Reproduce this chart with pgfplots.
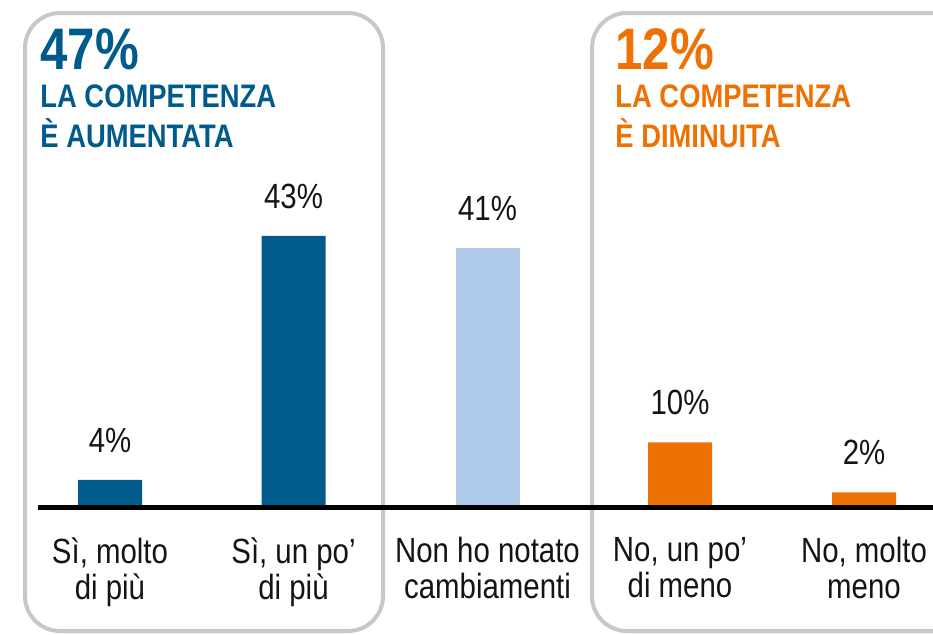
\documentclass[border=0pt]{standalone}
\usepackage{fontspec}
\setmainfont{Liberation Sans}[FakeStretch=0.84]
\usepackage{pgfplots}
\pgfplotsset{compat=1.18}
\definecolor{dblue}{HTML}{005A8C}
\definecolor{lblue}{HTML}{AEC9EA}
\definecolor{orng}{HTML}{EE7203}
\definecolor{boxgray}{HTML}{C8C8C8}
\definecolor{txt}{HTML}{141414}
\begin{document}
\begin{tikzpicture}
\begin{axis}[
 scale only axis, width=466.5pt, height=252.5pt,
 xmin=0, xmax=933, ymin=0, ymax=80.72,
 clip=false, axis line style={draw=none}, ytick=\empty,
 xtick={110,293.5,487.5,680,864},
 xticklabels={{Sì, molto\\di più},{Sì, un po’\\di più},{Non ho notato\\cambiamenti},{No, un po’\\di meno},{No, molto\\meno}},
 xticklabel style={align=center, anchor=north, inner sep=0pt, yshift=-16pt, font=\fontsize{17.5}{18}\selectfont, text=txt},
 major tick length=0pt,
 ybar, bar width=32pt, bar shift=0pt,
 nodes near coords={\pgfmathprintnumber{\pgfplotspointmeta}\%},
 nodes near coords style={font=\fontsize{17.5}{18}\selectfont, text=txt, anchor=south, inner sep=0pt, yshift=13.5pt},
 /pgf/number format/assume math mode=true,
]
\draw[boxgray, line width=2pt, rounded corners=17.5pt] (axis cs:25,78.64) rectangle (axis cs:383,-20.14);
\draw[boxgray, line width=2pt, rounded corners=17.5pt] (axis cs:592,78.64) rectangle (axis cs:990,-20.14);
\addplot[fill=dblue, draw=none] coordinates {(110,4) (293.5,43)};
\addplot[fill=lblue, draw=none] coordinates {(487.5,41)};
\addplot[fill=orng, draw=none] coordinates {(680,10) (864,2)};
\draw[black, line width=2.5pt] (axis cs:38,-0.4) -- (axis cs:945,-0.4);
\node[anchor=base west, font=\bfseries\fontsize{29.3}{30}\selectfont, text=dblue, inner sep=0pt] at (axis cs:40,69.53) {47\%};
\node[anchor=base west, font=\bfseries\fontsize{16.3}{20}\selectfont, text=dblue, inner sep=0pt] at (axis cs:40,63.46) {LA COMPETENZA};
\node[anchor=base west, font=\bfseries\fontsize{16.3}{20}\selectfont, text=dblue, inner sep=0pt] at (axis cs:40,57.07) {È AUMENTATA};
\node[anchor=base west, font=\bfseries\fontsize{29.3}{30}\selectfont, text=orng, inner sep=0pt] at (axis cs:615,69.53) {12\%};
\node[anchor=base west, font=\bfseries\fontsize{16.3}{20}\selectfont, text=orng, inner sep=0pt] at (axis cs:615,63.46) {LA COMPETENZA};
\node[anchor=base west, font=\bfseries\fontsize{16.3}{20}\selectfont, text=orng, inner sep=0pt] at (axis cs:615,57.07) {È DIMINUITA};
\end{axis}
\pgfresetboundingbox
\path[use as bounding box] (current axis.south west) ++(0pt,-64.5pt) rectangle (current axis.north east);
\end{tikzpicture}
\end{document}
